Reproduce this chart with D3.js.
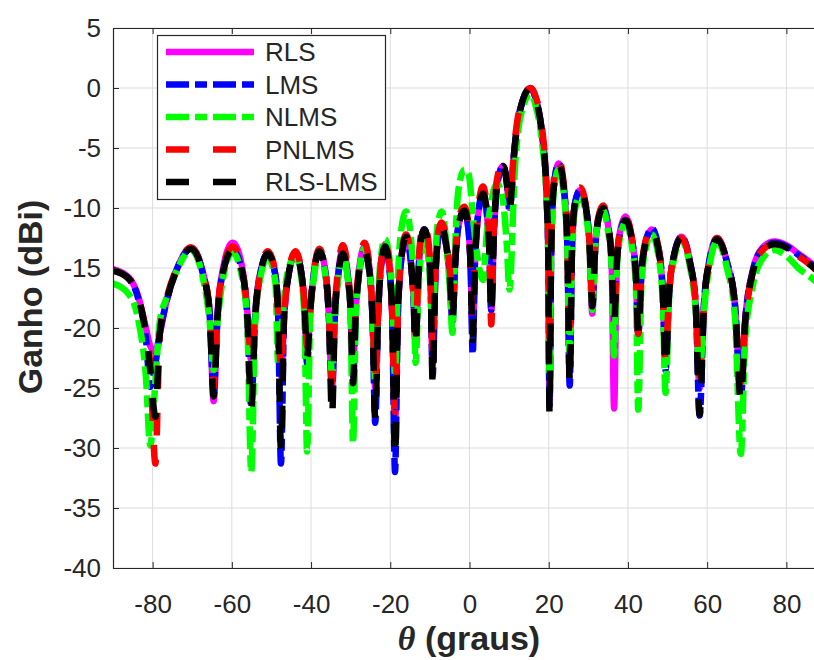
<!DOCTYPE html>
<html>
<head>
<meta charset="utf-8">
<script src="https://cdn.jsdelivr.net/npm/d3@7/dist/d3.min.js"></script>
<style>
  body { margin: 0; background: #fff; }
  text { font-family: "Liberation Sans", Arial, sans-serif; fill: #262626; }
</style>
</head>
<body>
<svg id="chart" width="814" height="660"></svg>
<script>
// angle grid (graus), shared by all series: nulls, shoulders and peaks of each lobe
var theta = [
  -90, -86, -83.5, -81.7, -80.6, -79.3,
  -78.2, -76.5, -74, -70.3, -67.2, -65.6, -64.6,
  -63.6, -62.2, -59.8, -57.4, -56.1, -55.1,
  -54.1, -52.9, -50.9, -49.0, -48.3, -47.6,
  -46.8, -45.8, -43.9, -42.3, -41.6, -41.0,
  -40.2, -39.3, -37.9, -36.3, -35.5, -34.7,
  -34.0, -33.2, -32.0, -30.7, -30.0, -29.4,
  -28.7, -27.9, -26.5, -25.2, -24.5, -23.8,
  -23.1, -22.5, -21.3, -20.1, -19.5, -18.8,
  -18.1, -17.3, -16.0, -14.8, -14.2, -13.6,
  -12.9, -12.3, -11.4, -10.3, -9.8, -9.3,
  -8.7, -8.1, -7.0, -5.7, -5.0, -4.3,
  -3.6, -2.8, -1.3, -0.2, 0.3, 0.8,
  1.4, 2.2, 3.4, 4.4, 5.0, 5.5,
  6.1, 7.0, 8.5, 9.4, 10.1, 11.4, 12.8, 15.4,
  16.8, 18.3, 19.4, 19.9, 20.2, 20.6, 21.2, 22.5,
  23.8, 24.7, 25.3,
  25.9, 26.7, 27.9, 29.4, 30.3, 31.0,
  31.7, 32.5, 33.7, 35.0, 35.9, 36.5,
  37.2, 38.1, 39.4, 40.9, 42.0, 42.6,
  43.4, 44.4, 46.0, 47.7, 48.8, 49.5,
  50.4, 51.6, 53.5, 55.6, 57.1, 58.1,
  59.2, 60.5, 62.5, 65.0, 67.0, 68.5,
  69.6, 71.5, 74.0, 77.0, 80.0, 83.0, 87.0, 90.0
];

var rls = [
  -15.1, -15.8, -17.5, -20.0, -21.5, -22.0,
  -20.5, -17.8, -15.2, -13.3, -15.5, -18.6, -26.1,
  -18.8, -15.0, -12.9, -14.9, -18.6, -22.7,
  -19.0, -15.6, -13.8, -15.6, -19.0, -24.0,
  -19.0, -15.8, -13.8, -15.8, -18.5, -22.0,
  -18.5, -15.5, -13.5, -15.5, -19.0, -25.0,
  -19.0, -15.6, -13.5, -15.6, -18.5, -23.0,
  -18.3, -15.2, -13.2, -15.2, -19.0, -25.0,
  -19.0, -15.3, -13.0, -15.3, -19.0, -28.0,
  -19.0, -14.5, -12.4, -14.5, -17.0, -21.0,
  -15.5, -12.8, -11.8, -13.5, -16.5, -23.0,
  -16.5, -13.0, -11.6, -13.5, -15.5, -19.5,
  -14.5, -11.5, -10.2, -12.0, -15.0, -20.5,
  -14.5, -10.5, -8.8, -10.5, -13.5, -18.5,
  -12.5, -8.0, -6.5, -7.8, -10.0, -4.9, -1.8, 0.0,
  -1.0, -3.8, -8.5, -14.0, -26.0, -14.0, -8.5, -6.3,
  -8.3, -13.0, -23.0,
  -13.0, -9.5, -8.5, -10.0, -13.0, -18.8,
  -13.5, -11.0, -9.9, -11.5, -14.8, -26.7,
  -14.5, -11.8, -10.7, -12.5, -15.5, -20.5,
  -15.5, -13.0, -11.8, -13.5, -17.0, -23.0,
  -17.0, -14.0, -12.4, -14.4, -18.0, -25.0,
  -18.0, -14.5, -12.5, -14.5, -18.0, -25.0,
  -19.3, -15.2, -13.3, -12.8, -13.1, -13.8, -14.8, -15.8
];

var lms = [
  -15.2, -15.9, -17.7, -20.8, -24.9, -23.0,
  -20.5, -17.8, -15.2, -13.4, -15.6, -18.8, -25.4,
  -19.0, -15.3, -13.5, -15.3, -19.0, -26.5,
  -19.0, -15.6, -13.8, -15.6, -19.0, -31.3,
  -19.0, -15.8, -13.8, -15.8, -18.5, -23.0,
  -18.5, -15.5, -13.6, -15.6, -19.0, -25.5,
  -19.0, -15.8, -13.8, -15.8, -18.5, -24.0,
  -18.5, -15.5, -13.6, -15.5, -19.0, -27.9,
  -19.0, -15.5, -13.2, -15.5, -19.0, -32.0,
  -19.0, -14.5, -12.4, -14.5, -17.0, -21.5,
  -15.5, -12.8, -11.8, -13.5, -16.5, -24.0,
  -16.5, -13.0, -11.6, -13.5, -15.5, -19.3,
  -14.5, -11.5, -10.2, -12.0, -15.0, -22.2,
  -14.0, -10.5, -8.8, -10.5, -13.5, -18.5,
  -12.5, -8.0, -6.5, -7.8, -10.2, -5.0, -1.8, 0.0,
  -1.0, -3.8, -8.5, -14.0, -26.5, -14.0, -8.5, -6.3,
  -8.3, -13.0, -24.8,
  -13.0, -9.5, -8.5, -10.0, -13.0, -18.2,
  -13.5, -11.0, -10.0, -11.5, -14.5, -19.5,
  -14.5, -12.0, -11.0, -12.5, -15.5, -20.5,
  -15.5, -13.0, -11.7, -13.3, -17.0, -23.5,
  -17.0, -14.0, -12.4, -14.4, -18.0, -27.3,
  -18.0, -14.5, -12.6, -14.5, -18.0, -25.7,
  -19.5, -15.3, -13.4, -12.9, -13.2, -13.9, -14.9, -15.9
];

var nlms = [
  -16.3, -17.2, -19.5, -24.0, -29.8, -24.5,
  -19.5, -17.5, -15.3, -13.5, -16.0, -19.5, -23.5,
  -19.5, -15.8, -13.7, -15.8, -19.6, -32.0,
  -19.5, -16.0, -14.1, -16.2, -23.0, -21.0,
  -17.5, -15.2, -14.0, -16.3, -20.0, -30.3,
  -19.0, -15.8, -13.8, -15.8, -18.5, -24.0,
  -19.2, -16.0, -14.0, -16.0, -19.5, -29.6,
  -19.0, -15.5, -13.4, -15.3, -18.5, -24.5,
  -18.0, -14.5, -12.6, -14.5, -18.0, -24.0,
  -16.0, -12.0, -10.3, -12.5, -15.5, -22.9,
  -17.0, -14.0, -12.5, -14.5, -17.0, -20.0,
  -15.0, -11.5, -10.3, -13.5, -16.5, -20.4,
  -13.0, -8.5, -6.8, -7.2, -8.5, -10.5,
  -12.5, -14.5, -16.0, -12.0, -10.5, -9.5,
  -8.5, -8.0, -9.5, -13.0, -16.8, -7.0, -2.5, -0.5,
  -1.6, -4.5, -9.0, -14.0, -24.0, -14.0, -9.0, -6.8,
  -8.8, -13.5, -22.0,
  -13.5, -10.0, -9.0, -10.5, -13.5, -18.5,
  -13.5, -11.0, -10.2, -12.0, -15.0, -22.3,
  -15.0, -12.3, -11.2, -13.0, -16.5, -26.8,
  -16.5, -13.5, -12.2, -14.0, -18.0, -25.4,
  -17.5, -14.3, -12.7, -14.8, -18.5, -24.0,
  -18.5, -15.0, -12.8, -15.0, -19.0, -30.5,
  -21.0, -16.5, -14.2, -13.5, -14.0, -15.0, -16.0, -17.0
];

var pnlms = [
  -15.2, -15.9, -17.6, -20.3, -23.0, -31.3,
  -20.5, -17.6, -15.1, -13.3, -15.5, -18.6, -25.0,
  -18.8, -15.0, -13.2, -15.0, -18.6, -22.5,
  -18.8, -15.4, -13.6, -15.4, -18.8, -23.5,
  -19.0, -15.6, -13.6, -15.6, -18.3, -21.5,
  -18.3, -15.3, -13.4, -15.4, -18.8, -24.5,
  -18.5, -15.2, -13.1, -15.2, -18.2, -22.5,
  -18.0, -15.0, -12.9, -15.0, -18.5, -24.0,
  -19.0, -15.2, -12.8, -15.2, -19.0, -27.0,
  -19.0, -14.3, -12.2, -14.3, -16.8, -20.5,
  -15.0, -12.3, -11.3, -13.0, -16.0, -22.0,
  -16.0, -12.5, -11.2, -13.0, -15.0, -18.0,
  -14.0, -11.0, -9.9, -11.5, -14.5, -19.0,
  -14.0, -10.0, -8.2, -10.0, -13.0, -19.7,
  -12.0, -7.5, -6.2, -7.2, -9.5, -4.5, -1.5, 0.0,
  -0.8, -3.3, -8.0, -13.0, -22.0, -13.0, -8.0, -6.0,
  -8.0, -12.5, -21.0,
  -12.5, -9.2, -8.3, -9.8, -12.8, -17.5,
  -13.2, -10.8, -9.8, -11.3, -14.3, -19.0,
  -14.3, -11.8, -10.8, -12.3, -15.3, -20.5,
  -15.3, -12.8, -11.7, -13.3, -16.8, -22.5,
  -17.0, -14.0, -12.5, -14.5, -18.0, -24.0,
  -18.0, -14.5, -12.5, -14.5, -18.0, -24.5,
  -19.5, -15.4, -13.5, -13.0, -13.3, -14.0, -15.0, -16.0
];

var rlslms = [
  -15.2, -15.9, -17.6, -20.5, -23.5, -27.4,
  -20.5, -17.8, -15.2, -13.4, -15.6, -18.8, -25.7,
  -19.0, -15.3, -13.5, -15.3, -19.0, -26.6,
  -19.0, -15.6, -13.8, -15.6, -19.0, -30.2,
  -19.0, -15.8, -13.8, -15.8, -18.5, -22.4,
  -18.5, -15.5, -13.6, -15.6, -19.0, -27.4,
  -19.0, -15.8, -13.8, -15.8, -18.5, -24.6,
  -18.5, -15.5, -13.6, -15.5, -19.0, -27.6,
  -19.0, -15.5, -13.2, -15.5, -19.0, -30.8,
  -19.0, -14.5, -12.4, -14.5, -17.0, -21.5,
  -15.5, -12.8, -11.8, -13.5, -16.5, -24.6,
  -16.5, -13.0, -11.6, -13.5, -15.5, -19.3,
  -14.5, -11.5, -10.2, -12.0, -15.0, -21.0,
  -14.5, -10.5, -8.8, -10.5, -13.5, -19.0,
  -12.5, -8.0, -6.5, -7.8, -10.0, -4.9, -1.8, 0.0,
  -1.0, -3.8, -8.5, -14.0, -27.2, -14.0, -8.5, -6.3,
  -8.3, -13.0, -24.7,
  -13.0, -9.5, -8.5, -10.0, -13.0, -18.2,
  -13.5, -11.0, -10.0, -11.5, -14.5, -19.5,
  -14.5, -12.0, -11.0, -12.5, -15.5, -20.5,
  -15.5, -13.0, -11.9, -13.5, -17.0, -23.2,
  -17.0, -14.0, -12.5, -14.5, -18.0, -27.2,
  -18.0, -14.5, -12.6, -14.5, -18.0, -26.0,
  -19.5, -15.4, -13.5, -13.0, -13.3, -14.0, -15.0, -16.0
];

var names = ["RLS", "LMS", "NLMS", "PNLMS", "RLS-LMS"];
var values = [rls, lms, nlms, pnlms, rlslms];
var colors = ["#ff00ff", "#0000ff", "#00ff00", "#ff0000", "#000000"];
var dashes = [null, "23,6,12,6", "23,6,12,6", "23,24", "23,24"];
var xTicks = [-80, -60, -40, -20, 0, 20, 40, 60, 80];
var yTicks = [5, 0, -5, -10, -15, -20, -25, -30, -35, -40];

(function () {
  var svg = d3.select("#chart");
  var pL = 113, pT = 28, pB = 568, pR = 826;
  var lw = 6.5;

  var x = d3.scaleLinear().domain([-90, 90]).range([pL, pR]);
  var y = d3.scaleLinear().domain([-40, 5]).range([pB, pT]);

  // grid
  var grid = svg.append("g").attr("stroke", "#dcdcdc").attr("stroke-width", 1);
  xTicks.forEach(function (t) {
    grid.append("line").attr("x1", x(t)).attr("x2", x(t)).attr("y1", pT).attr("y2", pB);
  });
  yTicks.forEach(function (t) {
    grid.append("line").attr("x1", pL).attr("x2", pR).attr("y1", y(t)).attr("y2", y(t));
  });

  svg.append("clipPath").attr("id", "plotclip")
    .append("rect").attr("x", pL).attr("y", pT).attr("width", pR - pL).attr("height", pB - pT);

  var line = d3.line()
    .x(function (d) { return x(d[0]); })
    .y(function (d) { return y(d[1]); })
    .curve(d3.curveMonotoneX);

  var curves = svg.append("g").attr("clip-path", "url(#plotclip)");
  values.forEach(function (vals, i) {
    var pts = theta.map(function (t, k) { return [t, vals[k]]; });
    curves.append("path")
      .attr("d", line(pts))
      .attr("fill", "none")
      .attr("stroke", colors[i])
      .attr("stroke-width", lw)
      .attr("stroke-dasharray", dashes[i])
      .attr("stroke-linejoin", "round");
  });

  // axes, ticks pointing inward
  function styleAxis(g) {
    g.select(".domain").attr("stroke", "#262626").attr("stroke-width", 1.2);
    g.selectAll(".tick line").attr("stroke", "#262626");
    g.selectAll(".tick text").attr("fill", "#262626")
      .style("font-family", '"Liberation Sans", Arial, sans-serif').style("font-size", "26px");
  }
  var fmt = function (d) { return d < 0 ? "-" + Math.abs(d) : String(d); };

  svg.append("g").attr("transform", "translate(0," + pB + ")")
    .call(d3.axisBottom(x).tickValues(xTicks).tickFormat(fmt).tickSizeInner(-6).tickSizeOuter(0).tickPadding(27))
    .call(styleAxis);
  svg.append("g").attr("transform", "translate(0," + pT + ")")
    .call(d3.axisTop(x).tickValues(xTicks).tickFormat("").tickSizeInner(-6).tickSizeOuter(0))
    .call(styleAxis);
  svg.append("g").attr("transform", "translate(" + pL + ",0)")
    .call(d3.axisLeft(y).tickValues(yTicks).tickFormat(fmt).tickSizeInner(-6).tickSizeOuter(0).tickPadding(12))
    .call(styleAxis);

  // axis titles
  svg.append("text")
    .attr("x", 469).attr("y", 650)
    .attr("text-anchor", "middle")
    .style("font-size", "34px").style("font-weight", "bold")
    .html('<tspan font-style="italic" font-family="Liberation Serif, serif">θ</tspan> (graus)');
  svg.append("text")
    .attr("transform", "translate(42,297) rotate(-90)")
    .attr("text-anchor", "middle")
    .style("font-size", "34px").style("font-weight", "bold")
    .text("Ganho (dBi)");

  // legend
  var lg = svg.append("g");
  lg.append("rect").attr("x", 157.5).attr("y", 35.5).attr("width", 228).attr("height", 164)
    .attr("fill", "#fff").attr("stroke", "#262626").attr("stroke-width", 1.2);
  names.forEach(function (n, i) {
    var ly = 52 + i * 32.5;
    lg.append("line").attr("x1", 166).attr("x2", 254).attr("y1", ly).attr("y2", ly)
      .attr("stroke", colors[i]).attr("stroke-width", lw).attr("stroke-dasharray", dashes[i]);
    lg.append("text").attr("x", 265).attr("y", ly + 9).style("font-size", "26px").text(n);
  });
})();
</script>
</body>
</html>
